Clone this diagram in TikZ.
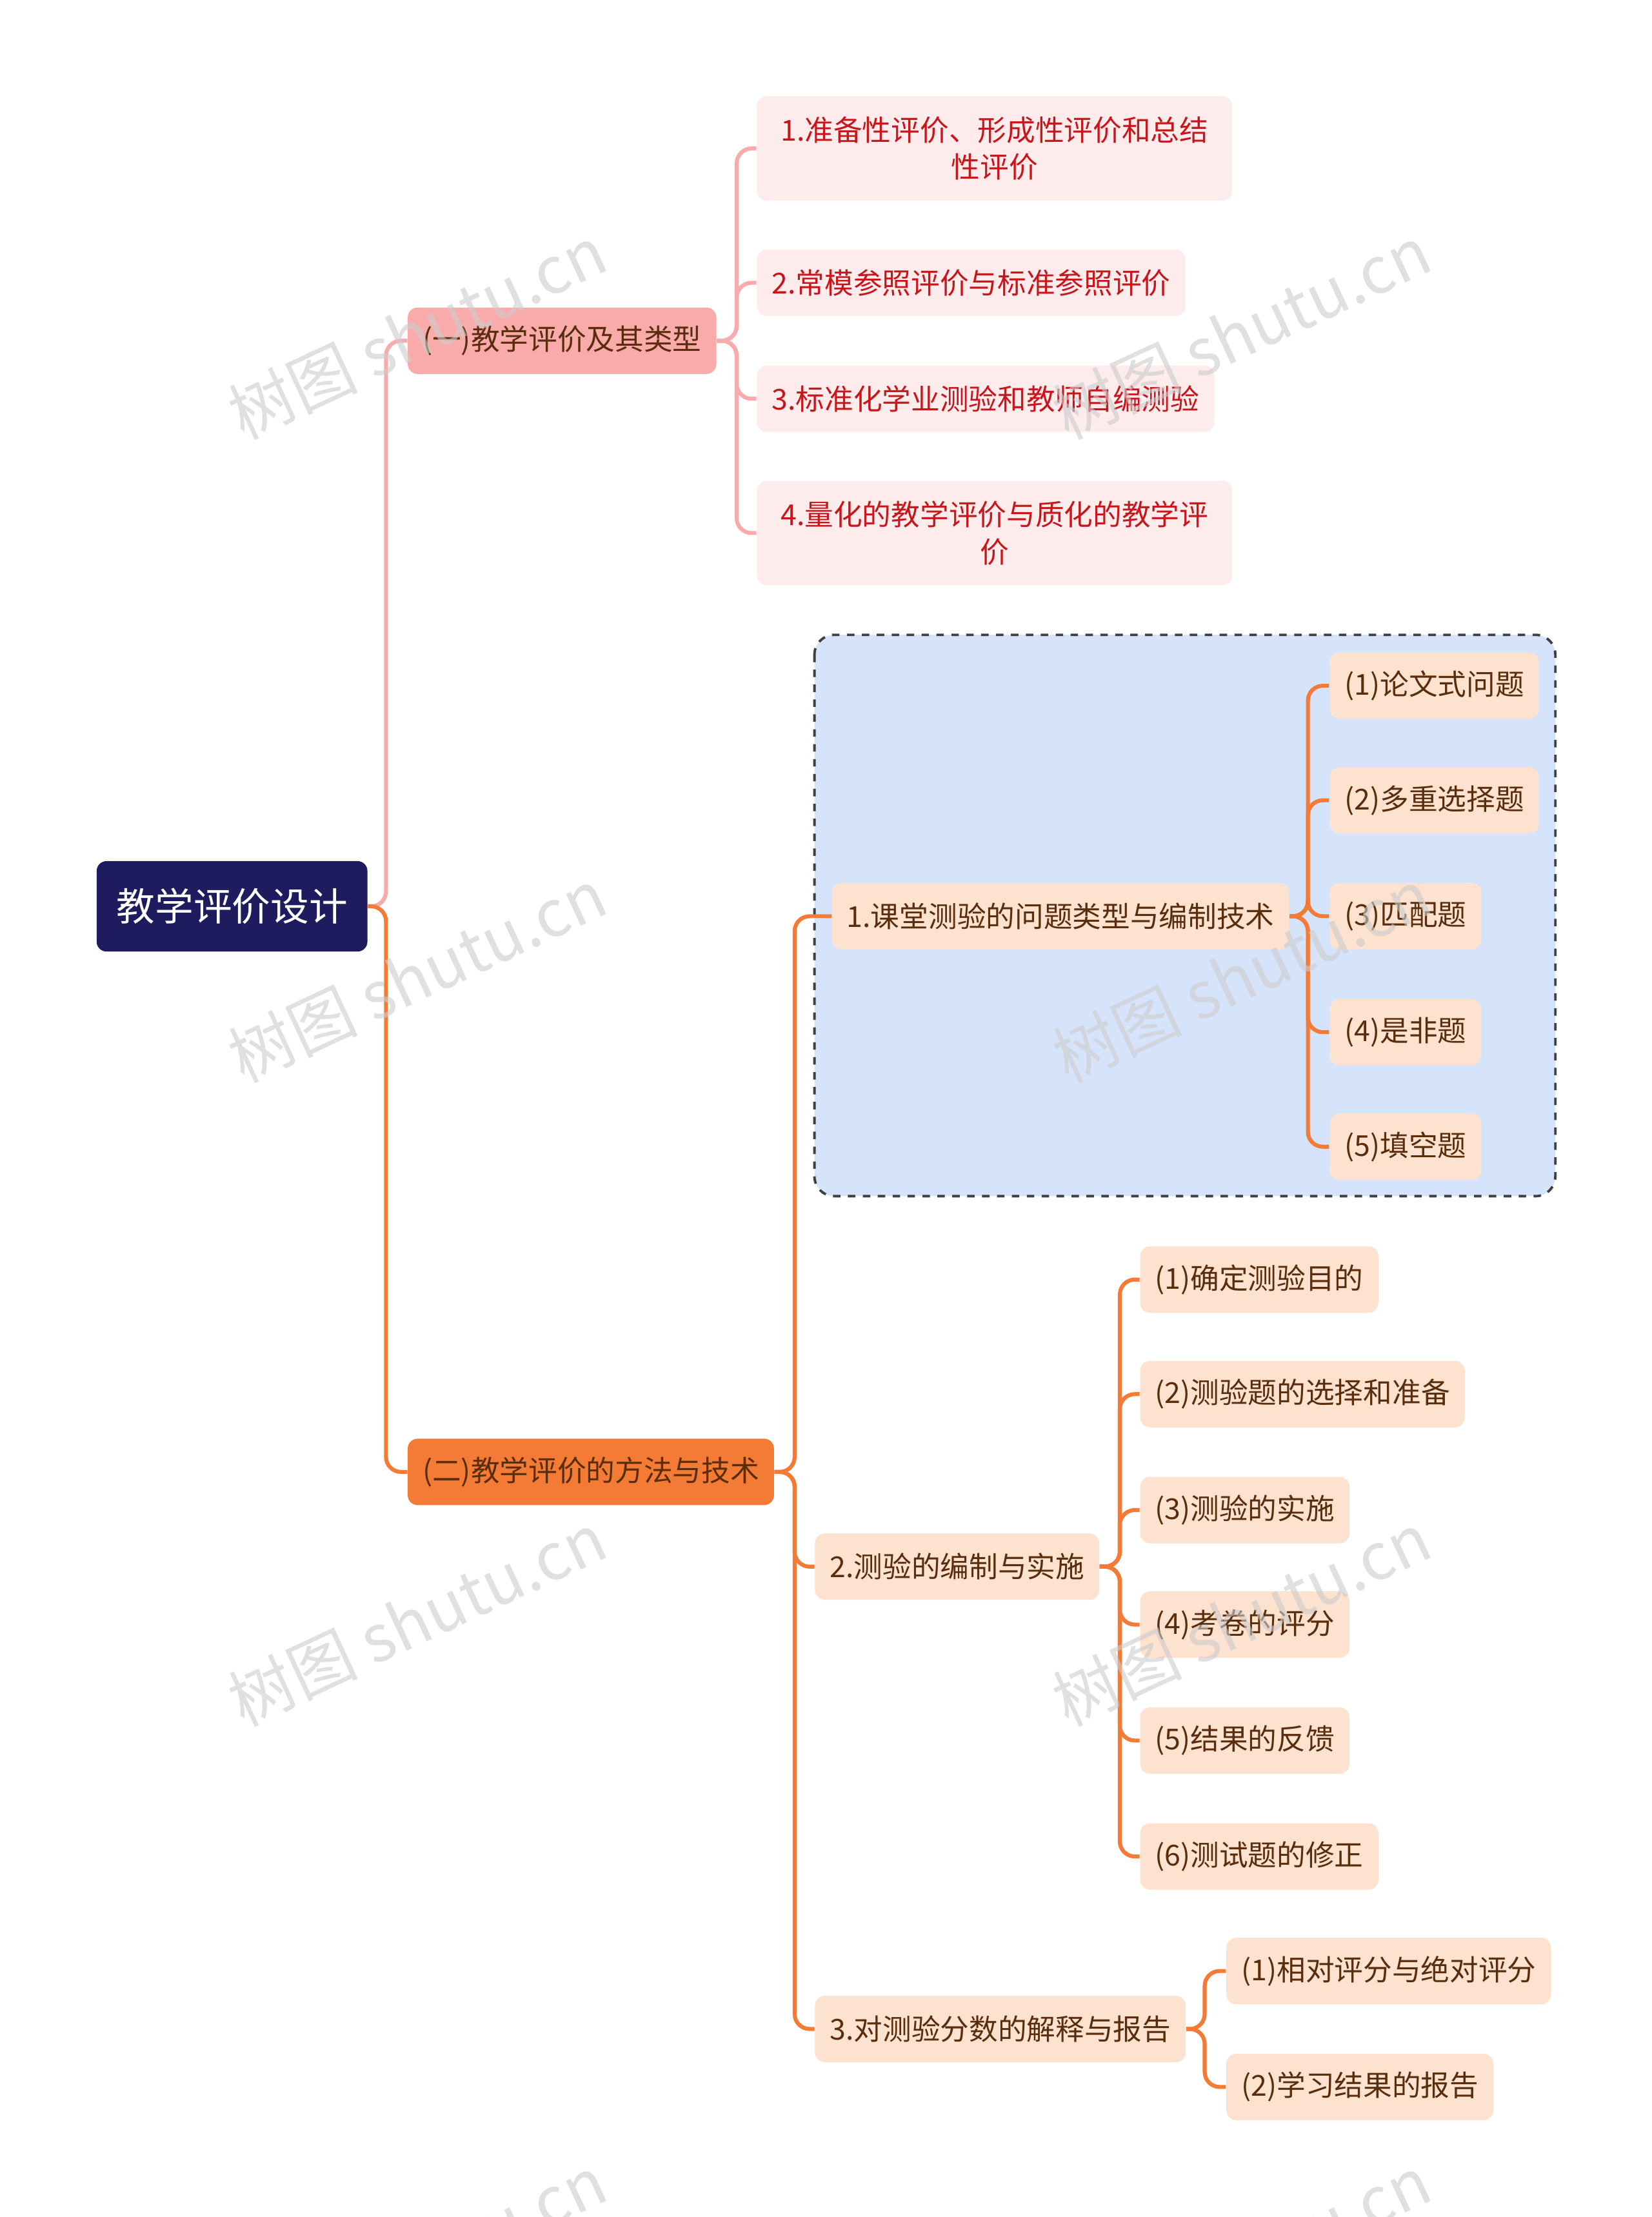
\documentclass[tikz,border=0pt]{standalone}
\usepackage{fontspec}
\newfontfamily\cjk{Noto Sans CJK SC}
\usetikzlibrary{positioning}
\definecolor{navy}{HTML}{1E1B5E}
\definecolor{pinkmain}{HTML}{F9ABAB}
\definecolor{pinkleaf}{HTML}{FDECEB}
\definecolor{redtext}{HTML}{C8161D}
\definecolor{orangemain}{HTML}{F47B35}
\definecolor{peach}{HTML}{FDE2D0}
\definecolor{browntext}{HTML}{5A2D0C}
\definecolor{groupblue}{HTML}{D6E4FB}
\tikzset{
  box/.style={rounded corners=4pt, anchor=west, inner xsep=6pt, minimum height=0.94cm, font=\cjk\fontsize{11.6}{15}\selectfont},
  rootbox/.style={box, fill=navy, text=white, minimum height=1.28cm, inner xsep=8pt, font=\cjk\fontsize{15.5}{18}\selectfont},
  topic/.style={box, fill=pinkmain, text=browntext},
  leaf/.style={box, fill=pinkleaf, text=redtext, align=center},
  twoline/.style={text width=6.3cm, minimum height=1.48cm},
  otopic/.style={box, fill=orangemain, text=browntext},
  sub/.style={box, fill=peach, text=browntext},
  pinkline/.style={draw=pinkmain, line width=1.6pt, rounded corners=6pt},
  orangeline/.style={draw=orangemain, line width=1.6pt, rounded corners=6pt},
  wmark/.style={text=gray!40, opacity=0.6, rotate=25, font=\cjk\fontsize{26}{30}\selectfont}
}
\begin{document}
\begin{tikzpicture}[x=0.02cm, y=-0.02cm]
    \useasboundingbox[fill=white] (0,0) rectangle (1168,1568);

    % group behind the first subtopic
    \draw[fill=groupblue, draw=black!75, dashed, line width=1pt, rounded corners=8pt]
        (576,449) rectangle (1100,846);

    % root and topics
    \node[rootbox] (root) at (68,641) {教学评价设计};
    \node[topic] (typ) at (288,241) {(一)教学评价及其类型};
    \node[otopic] (met) at (288,1041) {(二)教学评价的方法与技术};

    % leaves of the first topic
    \node[leaf, twoline] (t1) at (535,105) {1.准备性评价、形成性评价和总结\\性评价};
    \node[leaf] (t2) at (535,200) {2.常模参照评价与标准参照评价};
    \node[leaf] (t3) at (535,282) {3.标准化学业测验和教师自编测验};
    \node[leaf, twoline] (t4) at (535,377) {4.量化的教学评价与质化的教学评\\价};

    % subtopics of the second topic
    \node[sub] (ask) at (588,648) {1.课堂测验的问题类型与编制技术};
    \node[sub] (mak) at (576,1108) {2.测验的编制与实施};
    \node[sub] (rep) at (576,1435) {3.对测验分数的解释与报告};

    \node[sub] (a1) at (940,485) {(1)论文式问题};
    \node[sub] (a2) at (940,566) {(2)多重选择题};
    \node[sub] (a3) at (940,648) {(3)匹配题};
    \node[sub] (a4) at (940,730) {(4)是非题};
    \node[sub] (a5) at (940,811) {(5)填空题};

    \node[sub] (m1) at (806,905) {(1)确定测验目的};
    \node[sub] (m2) at (806,986) {(2)测验题的选择和准备};
    \node[sub] (m3) at (806,1068) {(3)测验的实施};
    \node[sub] (m4) at (806,1149) {(4)考卷的评分};
    \node[sub] (m5) at (806,1231) {(5)结果的反馈};
    \node[sub] (m6) at (806,1313) {(6)测试题的修正};

    \node[sub] (r1) at (867,1394) {(1)相对评分与绝对评分};
    \node[sub] (r2) at (867,1476) {(2)学习结果的报告};

    % connectors
    \draw[pinkline] (root.east) -- (273,641) |- (typ.west);
    \draw[orangeline] (root.east) -- (273,641) |- (met.west);
    \foreach \n in {t1,t2,t3,t4}
        \draw[pinkline] (typ.east) -- (521,241) |- (\n.west);
    \foreach \n in {ask,mak,rep}
        \draw[orangeline] (met.east) -- (562,1041) |- (\n.west);
    \foreach \n in {a1,a2,a3,a4,a5}
        \draw[orangeline] (ask.east) -- (925,648) |- (\n.west);
    \foreach \n in {m1,m2,m3,m4,m5,m6}
        \draw[orangeline] (mak.east) -- (792,1108) |- (\n.west);
    \foreach \n in {r1,r2}
        \draw[orangeline] (rep.east) -- (852,1435) |- (\n.west);

    % watermarks
    \foreach \x/\y in {295/235,295/690,295/1145,878/235,878/690,878/1145}
        \node[wmark] at (\x,\y) {树图 shutu.cn};
    \node[wmark] at (295,1600) {树图 shutu.cn};
    \node[wmark] at (878,1600) {树图 shutu.cn};
\end{tikzpicture}
\end{document}
